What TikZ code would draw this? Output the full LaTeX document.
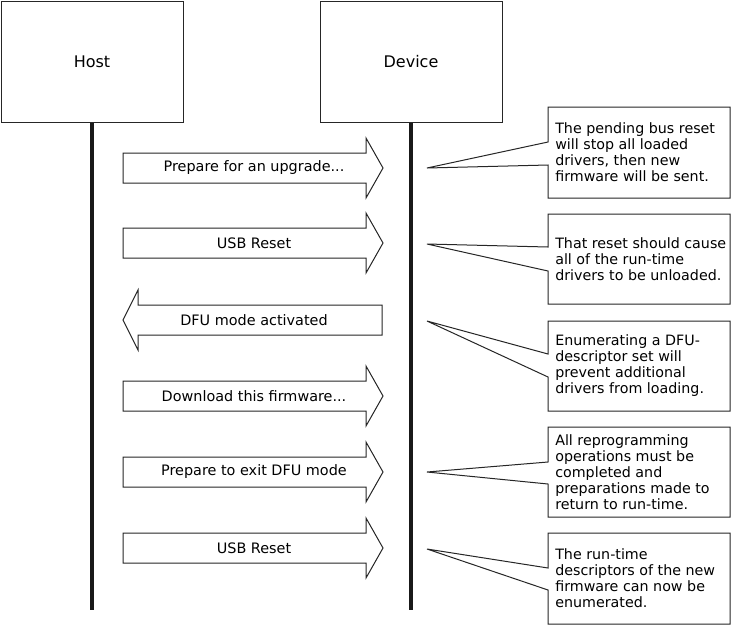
\documentclass[tikz,border=0pt]{standalone}
\usepackage{fontspec}
\setmainfont{DejaVu Sans}
\begin{document}
\begin{tikzpicture}[x=0.75pt,y=-0.75pt,
  outline/.style={draw=black!85,line width=0.75pt,fill=white},
  lifebox/.style={draw=black!85,line width=0.75pt,fill=white,minimum width=182*0.75pt,minimum height=121*0.75pt,inner sep=0pt,font=\fontsize{12}{14}\selectfont},
  lifeline/.style={line width=2.4pt,black!90},
  msglabel/.style={inner sep=0pt,font=\fontsize{10.8}{12}\selectfont},
  notetext/.style={inner sep=0pt,anchor=west,align=left,font=\fontsize{10.7}{12}\selectfont}
]
\useasboundingbox (0,0) rectangle (731,626);
% participants
\node[lifebox] (host) at (92,61.5) {Host};
\node[lifebox] (dev) at (411,61.5) {Device};
\coordinate (hostend) at (92,610);
\coordinate (devend) at (411,610);
\draw[lifeline] (host.south) -- (hostend);
\draw[lifeline] (dev.south) -- (devend);

% message arrows (block arrows)
\foreach \y in {168,243,396,472,548}{
  \draw[outline] (123,\y-15) -- (366,\y-15) -- (366,\y-30) -- (383,\y) -- (366,\y+30) -- (366,\y+15) -- (123,\y+15) -- cycle;
}
\draw[outline] (382,305) -- (138,305) -- (138,290) -- (123,320) -- (138,350) -- (138,335) -- (382,335) -- cycle;

\node[msglabel] (m1) at (254,168) {Prepare for an upgrade...};
\node[msglabel] (m2) at (254,243) {USB Reset};
\node[msglabel] (m3) at (254,320) {DFU mode activated};
\node[msglabel] (m4) at (254,396) {Download this firmware...};
\node[msglabel] (m5) at (254,472) {Prepare to exit DFU mode};
\node[msglabel] (m6) at (254,548) {USB Reset};

% callout notes
\draw[outline] (548,107) -- (730,107) -- (730,198) -- (548,198) -- (548,165) -- (427,168) -- (548,142) -- cycle;
\draw[outline] (548,214) -- (730,214) -- (730,304) -- (548,304) -- (548,271) -- (427,244) -- (548,247) -- cycle;
\draw[outline] (548,321) -- (730,321) -- (730,411) -- (548,411) -- (548,377) -- (427,321) -- (548,354) -- cycle;
\draw[outline] (548,427) -- (730,427) -- (730,517) -- (548,517) -- (548,484) -- (427,472) -- (548,462) -- cycle;
\draw[outline] (548,533) -- (730,533) -- (730,624) -- (548,624) -- (548,590) -- (427,549) -- (548,568) -- cycle;

\node[notetext] (n1) at (555,152.5) {The pending bus reset\\will stop all loaded\\drivers, then new\\firmware will be sent.};
\node[notetext] (n2) at (555,259) {That reset should cause\\all of the run-time\\drivers to be unloaded.};
\node[notetext] (n3) at (555,366) {Enumerating a DFU-\\descriptor set will\\prevent additional\\drivers from loading.};
\node[notetext] (n4) at (555,472) {All reprogramming\\operations must be\\completed and\\preparations made to\\return to run-time.};
\node[notetext] (n5) at (555,578.5) {The run-time\\descriptors of the new\\firmware can now be\\enumerated.};
\end{tikzpicture}
\end{document}
